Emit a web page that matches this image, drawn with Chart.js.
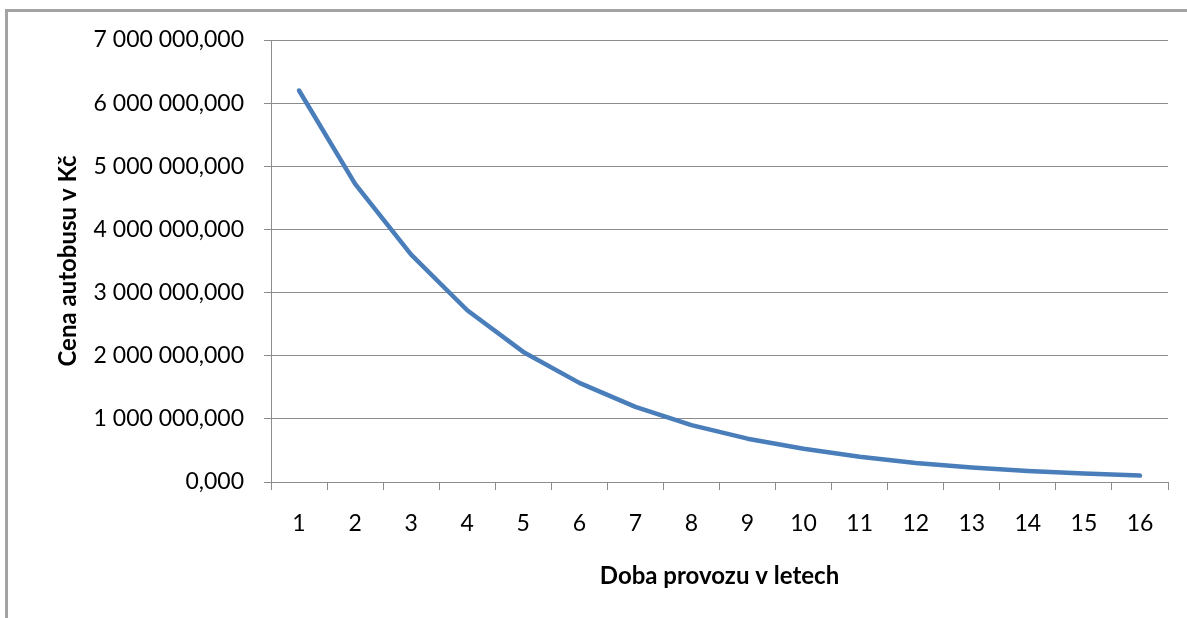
<!DOCTYPE html>
<html>
<head>
<meta charset="utf-8">
<script src="https://cdn.jsdelivr.net/npm/chart.js@4.4.1/dist/chart.umd.min.js"></script>
<style>
  html, body { margin: 0; padding: 0; background: #fff; overflow: hidden; }
  #wrap { position: relative; width: 1187px; height: 618px; }
  #frame { position: absolute; left: 5px; top: 9px; width: 1300px; height: 700px;
           border-left: 3px solid #a3a3a3; border-top: 3px solid #a3a3a3; }
  #chart { position: absolute; left: 0; top: 0; }
</style>
</head>
<body>
<div id="wrap">
  <div id="frame"></div>
  <canvas id="chart" width="1187" height="618"></canvas>
</div>
<script>
// doba provozu (roky) a cena autobusu v Kc
var years = ['1', '2', '3', '4', '5', '6', '7', '8', '9', '10', '11', '12', '13', '14', '15', '16'];
var prices = [6200000, 4720000, 3600000, 2720000, 2060000, 1570000, 1190000, 900000,
              686000, 527000, 400000, 302000, 230000, 175000, 134000, 101000];
var yTicks = [0, 1000000, 2000000, 3000000, 4000000, 5000000, 6000000, 7000000];

var yTitle = 'Cena autobusu v Kč';
var xTitle = 'Doba provozu v letech';

function czNumber(v) {
    // 7000000 -> "7 000 000,000"
    var s = Math.round(v).toString().replace(/\B(?=(\d{3})+(?!\d))/g, ' ');
    return s + ',000';
}

var gridGray = '#8c8c8c';
var tickFont = { family: 'Lato', size: 23 };
var titleFont = { family: 'Lato', size: 24, weight: 'bold' };

new Chart(document.querySelector('#chart'), {
    type: 'line',
    data: {
        labels: years,
        datasets: [{
            label: 'Cena',
            data: prices,
            borderColor: '#4A7EBB',
            borderWidth: 4.5,
            borderCapStyle: 'round',
            borderJoinStyle: 'round',
            pointRadius: 0,
            tension: 0,
            fill: false
        }]
    },
    options: {
        responsive: false,
        animation: false,
        layout: { padding: { top: 40, right: 19, bottom: 0, left: 0 } },
        plugins: {
            legend: { display: false },
            tooltip: { enabled: false }
        },
        scales: {
            x: {
                offset: true,
                grid: { offset: true, drawOnChartArea: false, drawTicks: true, tickLength: 8, color: gridGray, lineWidth: 1 },
                border: { color: gridGray, width: 1 },
                ticks: { color: '#000', font: tickFont, padding: 20, maxRotation: 0 },
                title: { display: true, text: xTitle, color: '#000', font: titleFont, padding: { top: 0, bottom: 27 } },
                afterFit: function (scale) { scale.height = 136; }
            },
            y: {
                min: 0,
                max: 7000000,
                afterBuildTicks: function (scale) {
                    scale.ticks = yTicks.map(function (v) { return { value: v }; });
                },
                grid: { color: gridGray, lineWidth: 1, tickLength: 7 },
                border: { color: gridGray, width: 1 },
                ticks: {
                    color: '#000',
                    font: tickFont,
                    padding: 20,
                    callback: function (value) { return czNumber(value); }
                },
                title: { display: true, text: yTitle, color: '#000', font: titleFont, padding: { top: 54, bottom: 0 } },
                afterFit: function (scale) { scale.width = 271; }
            }
        }
    }
});
</script>
</body>
</html>
